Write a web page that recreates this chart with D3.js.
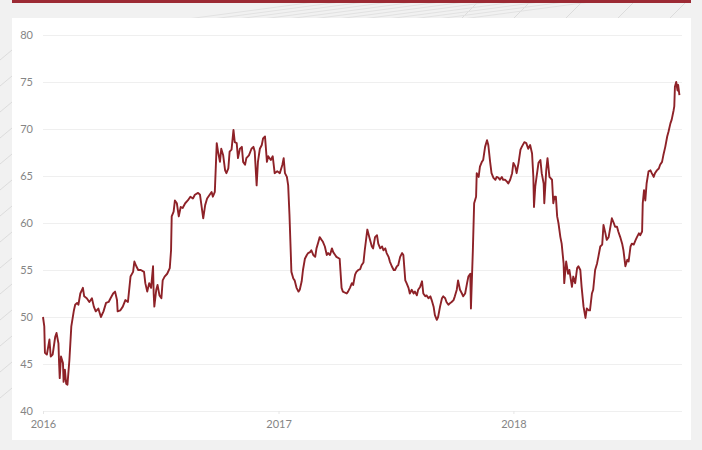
<!DOCTYPE html>
<html>
<head>
<meta charset="utf-8">
<script src="https://cdn.jsdelivr.net/npm/d3@7"></script>
<style>
  html, body { margin: 0; padding: 0; background: #f2f2f2; }
  svg { display: block; }
</style>
</head>
<body>
<svg id="chart" width="702" height="450"></svg>
<script>
// ---- data ----
const dates = [
"2016-01-01","2016-01-03","2016-01-04","2016-01-07","2016-01-11","2016-01-13","2016-01-16","2016-01-20","2016-01-22","2016-01-25","2016-01-26","2016-01-27","2016-01-29",
"2016-02-01","2016-02-02","2016-02-04","2016-02-06","2016-02-08","2016-02-11","2016-02-14","2016-02-18","2016-02-20","2016-02-23","2016-02-25","2016-02-28",
"2016-03-03","2016-03-05","2016-03-09","2016-03-13","2016-03-17","2016-03-20","2016-03-23","2016-03-27","2016-03-31",
"2016-04-04","2016-04-08","2016-04-12","2016-04-15","2016-04-19","2016-04-22","2016-04-25","2016-04-26","2016-04-30",
"2016-05-04","2016-05-08","2016-05-12","2016-05-16","2016-05-20","2016-05-22","2016-05-25","2016-05-28",
"2016-06-01","2016-06-06","2016-06-08","2016-06-11","2016-06-14","2016-06-17","2016-06-20","2016-06-21","2016-06-22","2016-06-25","2016-06-27","2016-06-30",
"2016-07-03","2016-07-05","2016-07-08","2016-07-12","2016-07-16","2016-07-18","2016-07-19","2016-07-22","2016-07-24","2016-07-27","2016-07-30",
"2016-08-02","2016-08-05","2016-08-09","2016-08-13","2016-08-17","2016-08-21","2016-08-24","2016-08-29",
"2016-09-01","2016-09-06","2016-09-09","2016-09-12","2016-09-16","2016-09-19","2016-09-21","2016-09-24","2016-09-27","2016-09-29",
"2016-10-02","2016-10-04","2016-10-07","2016-10-10","2016-10-12","2016-10-15","2016-10-17","2016-10-20","2016-10-23","2016-10-25","2016-10-28","2016-10-30",
"2016-11-02","2016-11-05","2016-11-07","2016-11-10","2016-11-12","2016-11-16","2016-11-20","2016-11-23","2016-11-25","2016-11-28","2016-11-30",
"2016-12-03","2016-12-06","2016-12-08","2016-12-11","2016-12-14","2016-12-16","2016-12-20","2016-12-23","2016-12-26","2016-12-30",
"2017-01-03","2017-01-07","2017-01-09","2017-01-11","2017-01-14","2017-01-16","2017-01-18","2017-01-20","2017-01-21","2017-01-24","2017-01-26","2017-01-29",
"2017-02-01","2017-02-03","2017-02-06","2017-02-08","2017-02-11","2017-02-14","2017-02-16","2017-02-19","2017-02-21","2017-02-24","2017-02-27",
"2017-03-01","2017-03-04","2017-03-06","2017-03-09","2017-03-11","2017-03-14","2017-03-17","2017-03-19","2017-03-22","2017-03-25","2017-03-27","2017-03-30",
"2017-04-01","2017-04-06","2017-04-09","2017-04-11","2017-04-17","2017-04-19","2017-04-22","2017-04-25","2017-04-27","2017-04-30",
"2017-05-02","2017-05-05","2017-05-08","2017-05-10","2017-05-13","2017-05-15","2017-05-19","2017-05-22","2017-05-26","2017-05-28","2017-05-31",
"2017-06-03","2017-06-05","2017-06-08","2017-06-11","2017-06-13","2017-06-16","2017-06-18","2017-06-21","2017-06-23","2017-06-26","2017-06-29",
"2017-07-01","2017-07-04","2017-07-06","2017-07-09","2017-07-12","2017-07-14","2017-07-17","2017-07-19","2017-07-22","2017-07-24","2017-07-27","2017-07-30",
"2017-08-01","2017-08-04","2017-08-06","2017-08-09","2017-08-12","2017-08-14","2017-08-17","2017-08-19","2017-08-22","2017-08-25","2017-08-27","2017-08-30",
"2017-09-01","2017-09-04","2017-09-06","2017-09-09","2017-09-12","2017-09-14","2017-09-17","2017-09-19","2017-09-22","2017-09-25","2017-09-27","2017-09-30",
"2017-10-02","2017-10-05","2017-10-07","2017-10-10","2017-10-13","2017-10-15","2017-10-18","2017-10-21","2017-10-23","2017-10-26","2017-10-27","2017-10-30",
"2017-11-01","2017-11-04","2017-11-05","2017-11-08","2017-11-10","2017-11-13","2017-11-15","2017-11-18","2017-11-21","2017-11-23","2017-11-26","2017-11-28",
"2017-12-01","2017-12-04","2017-12-06","2017-12-09","2017-12-11","2017-12-14","2017-12-16","2017-12-19","2017-12-22","2017-12-24","2017-12-27","2017-12-30",
"2018-01-01","2018-01-04","2018-01-06","2018-01-09","2018-01-12","2018-01-14","2018-01-18","2018-01-21","2018-01-24","2018-01-27","2018-01-30",
"2018-02-01","2018-02-02","2018-02-04","2018-02-06","2018-02-09","2018-02-12","2018-02-14","2018-02-17","2018-02-18","2018-02-21","2018-02-23","2018-02-26",
"2018-03-02","2018-03-04","2018-03-06","2018-03-08","2018-03-10","2018-03-12","2018-03-15","2018-03-17","2018-03-20","2018-03-21","2018-03-24","2018-03-27","2018-03-29",
"2018-04-02","2018-04-04","2018-04-07","2018-04-10","2018-04-12","2018-04-15","2018-04-17","2018-04-20","2018-04-23","2018-04-25","2018-04-28","2018-04-30",
"2018-05-03","2018-05-05","2018-05-08","2018-05-11","2018-05-13","2018-05-16","2018-05-19","2018-05-21","2018-05-24","2018-05-26","2018-05-29","2018-05-31",
"2018-06-03","2018-06-06","2018-06-08","2018-06-11","2018-06-13","2018-06-16","2018-06-19","2018-06-21","2018-06-24","2018-06-27","2018-06-29",
"2018-07-02","2018-07-04","2018-07-07","2018-07-10","2018-07-12","2018-07-15","2018-07-17","2018-07-20","2018-07-21","2018-07-23","2018-07-25","2018-07-27","2018-07-30",
"2018-08-02","2018-08-04","2018-08-07","2018-08-09","2018-08-12","2018-08-15","2018-08-17","2018-08-20","2018-08-22","2018-08-25","2018-08-28","2018-08-30",
"2018-09-02","2018-09-04","2018-09-07","2018-09-08","2018-09-09","2018-09-11","2018-09-13","2018-09-14","2018-09-16"
];
const values = [
50.0,49.0,46.2,46.0,47.6,45.8,46.0,47.9,48.3,47.2,45.1,43.5,45.8,
45.1,43.1,44.4,42.9,42.8,45.4,49.0,50.7,51.3,51.5,51.3,52.5,
53.1,52.2,52.0,51.6,52.0,51.1,50.6,50.9,50.0,
50.6,51.5,51.6,52.0,52.5,52.7,51.8,50.6,50.7,
51.1,51.8,51.6,54.3,54.8,55.9,55.4,55.0,
55.0,54.8,53.6,52.7,53.6,53.1,55.4,52.5,51.1,52.9,53.4,52.3,
52.0,53.9,54.3,54.6,55.2,57.1,60.7,61.2,62.4,62.1,60.7,
61.7,61.6,62.1,62.4,62.8,62.6,63.0,63.2,
63.0,60.5,61.9,62.6,63.0,63.3,62.8,63.3,68.5,67.6,
66.5,67.9,67.2,65.6,65.3,65.8,67.6,67.8,69.9,68.6,68.5,66.9,
67.9,68.1,66.5,66.2,66.9,67.2,67.9,68.1,67.6,64.0,66.5,
67.9,68.3,69.0,69.2,66.5,67.1,66.7,67.1,65.3,65.5,
65.3,66.2,66.9,65.3,64.9,64.0,60.9,56.9,54.8,54.1,53.9,53.1,
52.7,52.9,53.8,55.0,56.2,56.6,56.8,56.9,57.1,56.6,56.4,
57.3,58.0,58.5,58.2,58.0,57.5,56.6,56.8,56.6,57.3,56.9,56.6,
56.4,56.2,53.1,52.7,52.5,52.7,53.1,53.6,53.4,54.5,
54.8,55.0,55.1,55.5,55.8,57.1,59.3,58.5,57.5,57.3,58.5,
58.7,57.8,57.3,57.5,57.1,57.3,56.8,56.4,55.9,55.4,55.0,
55.0,55.4,55.5,56.4,56.8,56.6,53.9,53.6,53.1,52.5,52.9,52.5,
52.7,52.3,52.9,53.2,53.8,52.5,52.2,52.3,52.0,52.2,51.8,51.1,
50.2,49.7,50.0,51.1,52.0,52.2,52.0,51.6,51.3,51.5,51.6,51.8,
52.2,52.9,53.9,52.9,52.5,52.2,52.5,53.6,54.3,54.6,50.9,57.1,
62.1,62.8,65.3,64.9,66.0,66.5,66.7,68.1,68.8,68.3,66.4,65.3,
64.8,64.6,64.9,64.8,64.6,64.9,64.6,64.6,64.4,64.2,64.6,65.3,
66.4,66.0,65.3,66.4,67.8,68.1,68.6,68.5,67.9,68.3,67.4,
64.9,61.7,63.9,64.9,66.4,66.7,65.3,64.2,62.1,65.6,66.9,64.9,
64.6,62.1,62.8,62.8,60.7,60.0,58.5,57.8,55.7,53.6,55.9,54.6,55.0,
53.2,54.3,53.6,55.2,55.4,55.0,53.2,51.1,49.9,50.9,50.7,50.7,
52.5,52.9,55.0,55.7,56.4,57.5,57.7,59.8,58.9,58.2,58.5,59.3,
60.5,60.0,59.6,59.6,59.1,58.5,57.8,57.1,55.4,56.1,55.9,
57.5,57.8,57.7,58.2,58.5,58.9,58.7,59.1,62.1,63.5,62.4,64.2,65.5,
65.6,65.3,64.9,65.3,65.6,65.8,66.2,66.5,67.2,68.1,69.2,69.7,
70.6,71.0,72.0,72.4,74.5,75.0,74.1,74.7,73.6
];
const yTicks = [40, 45, 50, 55, 60, 65, 70, 75, 80];
const xTickLabels = ["2016", "2017", "2018"];
const xDomain = ["2016-01-01", "2018-09-20"];

// ---- drawing ----
const W = 702, H = 450;
const parse = d3.timeParse("%Y-%m-%d");
const data = dates.map((d, i) => ({ date: parse(d), value: values[i] }));

const svg = d3.select("#chart");

// decorative background
const bg = svg.append("g");
bg.append("rect").attr("width", W).attr("height", H).attr("fill", "#f1f1f1");
const stripes = bg.append("g").attr("stroke", "#dcdcdc").attr("stroke-width", 1);
for (let i = 0; i < 18; i++) {
  const x0 = 480 + i * 52;
  stripes.append("line").attr("x1", x0).attr("y1", 0).attr("x2", x0 - 20).attr("y2", 20);
}
for (let i = 0; i < 12; i++) {
  stripes.append("line").attr("x1", 180 + i * 25).attr("y1", 20).attr("x2", 330 + i * 25).attr("y2", 0).attr("stroke", "#e2e2e2");
}
for (let i = 0; i < 14; i++) {
  stripes.append("line").attr("x1", 0).attr("y1", 60 + i * 26).attr("x2", 12).attr("y2", 50 + i * 26);
}
bg.append("rect").attr("x", 12).attr("y", 18).attr("width", 679).attr("height", 422).attr("fill", "#ffffff");
bg.append("rect").attr("x", 12).attr("y", 0).attr("width", 679).attr("height", 3).attr("fill", "#9c2a34");

const plotL = 43, plotR = 682, plotT = 35, plotB = 411;

const x = d3.scaleTime()
  .domain(xDomain.map(parse))
  .range([plotL, plotR]);
const y = d3.scaleLinear()
  .domain([40, 80])
  .range([plotB, plotT]);

// gridlines + y labels
const yAxis = d3.axisLeft(y)
  .tickValues(yTicks)
  .tickSize(-(plotR - plotL))
  .tickPadding(10)
  .tickFormat(d3.format("d"));
const gy = svg.append("g").attr("transform", `translate(${plotL},0)`).call(yAxis);
gy.select(".domain").remove();
gy.selectAll(".tick line").attr("stroke", "#efefef").attr("stroke-width", 1);
gy.selectAll(".tick text")
  .attr("fill", "#858585")
  .style("font-family", "Lato, 'Open Sans', sans-serif")
  .style("font-size", "11px");

// x axis
const xAxis = d3.axisBottom(x)
  .tickValues(xTickLabels.map(s => parse(s + "-01-01")))
  .tickSize(3)
  .tickPadding(6)
  .tickFormat(d3.timeFormat("%Y"));
const gx = svg.append("g").attr("transform", `translate(0,${plotB})`).call(xAxis);
gx.select(".domain").remove();
gx.selectAll(".tick line").attr("stroke", "#e6e6e6");
gx.selectAll(".tick text")
  .attr("fill", "#858585")
  .style("font-family", "Lato, 'Open Sans', sans-serif")
  .style("font-size", "11px");

// line
const line = d3.line()
  .x(d => x(d.date))
  .y(d => y(d.value));
svg.append("path")
  .datum(data)
  .attr("fill", "none")
  .attr("stroke", "#8e2228")
  .attr("stroke-width", 1.9)
  .attr("stroke-linejoin", "round")
  .attr("d", line);
</script>
</body>
</html>
